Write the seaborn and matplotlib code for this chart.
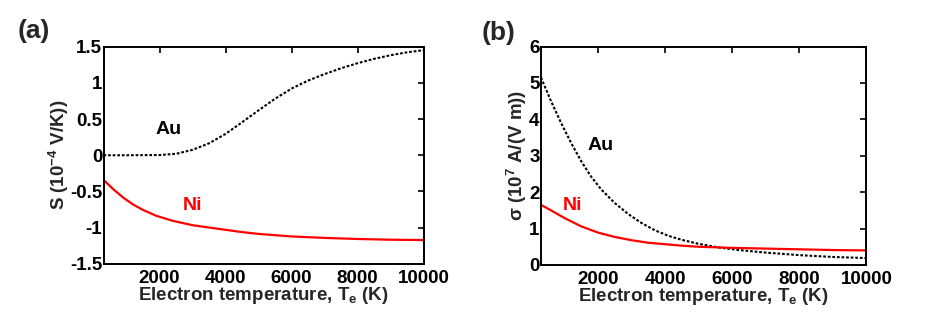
import numpy as np
import pandas as pd
import seaborn as sns
import matplotlib.pyplot as plt
from matplotlib.ticker import FormatStrFormatter

# values
# (a) Seebeck coefficient, 1e-4 V/K
te_s = [300, 1000, 2000, 2500, 3000, 3500, 4000, 4500, 5000, 5500, 6000,
        6500, 7000, 7500, 8000, 8500, 9000, 9500, 10000]
s_au = [0.0, 0.0, 0.003, 0.02, 0.075, 0.165, 0.295, 0.455, 0.62, 0.78, 0.92,
        1.03, 1.12, 1.2, 1.27, 1.33, 1.38, 1.42, 1.45]
te_s_ni = [300, 600, 900, 1200, 1500, 1900, 2400, 3000, 3700, 4500, 5000,
           6000, 7000, 8000, 9000, 10000]
s_ni = [-0.34, -0.47, -0.585, -0.68, -0.755, -0.835, -0.905, -0.965, -1.01,
        -1.06, -1.085, -1.12, -1.14, -1.155, -1.165, -1.17]

# (b) electrical conductivity, 1e7 A/(V m)
te_sig_au = [300, 600, 900, 1200, 1500, 1800, 2100, 2500, 2900, 3300, 3700,
             4100, 4500, 5000, 5600, 6200, 7000, 8000, 9000, 10000]
sig_au = [5.15, 4.5, 3.9, 3.35, 2.85, 2.42, 2.07, 1.70, 1.40, 1.15, 0.95,
          0.80, 0.69, 0.58, 0.48, 0.41, 0.34, 0.27, 0.22, 0.19]
te_sig_ni = [300, 600, 1000, 1500, 2000, 2500, 3000, 3500, 4000, 4500, 5000,
             6000, 7000, 8000, 9000, 10000]
sig_ni = [1.65, 1.50, 1.29, 1.06, 0.89, 0.77, 0.68, 0.61, 0.57, 0.53, 0.50,
          0.47, 0.45, 0.43, 0.41, 0.40]

x_ticks = [2000, 4000, 6000, 8000, 10000]

sns.set_theme(style="white")
plt.rcParams['font.family'] = ['Liberation Sans', 'DejaVu Sans']
plt.rcParams['font.weight'] = 'bold'
plt.rcParams['axes.labelweight'] = 'bold'
plt.rcParams['mathtext.fontset'] = 'custom'
plt.rcParams['mathtext.rm'] = 'Liberation Sans:bold'
plt.rcParams['mathtext.default'] = 'rm'

fs = 13.5
dots = (0, (1.3, 0.9))

fig = plt.figure(figsize=(9.26, 3.29), dpi=100)
ax1 = fig.add_axes([0.1118, 0.1976, 0.3456, 0.661])
ax2 = fig.add_axes([0.5842, 0.1946, 0.3515, 0.664])

sns.lineplot(x=te_s, y=s_au, ax=ax1, color='black', linestyle=dots, linewidth=1.5)
sns.lineplot(x=te_s_ni, y=s_ni, ax=ax1, color='red', linewidth=1.6)
sns.lineplot(x=te_sig_au, y=sig_au, ax=ax2, color='black', linestyle=dots, linewidth=1.5)
sns.lineplot(x=te_sig_ni, y=sig_ni, ax=ax2, color='red', linewidth=1.6)

ax1.set_ylim(-1.5, 1.5)
ax1.set_yticks(np.arange(-1.5, 1.51, 0.5))
ax2.set_ylim(0, 6)
ax2.set_yticks(range(0, 7))

for ax in (ax1, ax2):
    ax.set_xlim(300, 10000)
    ax.set_xticks(x_ticks)
    ax.yaxis.set_major_formatter(FormatStrFormatter('%g'))
    ax.tick_params(direction='in', length=4, width=1.2, top=True, right=True,
                   labelsize=fs, pad=1, colors='black')
    ax.tick_params(axis='x', pad=4)
    for sp in ax.spines.values():
        sp.set_visible(True)
        sp.set_color('black')
        sp.set_linewidth(1.4)
    ax.set_xlabel('Electron temperature, T$_\\mathregular{e}$ (K)', fontsize=fs,
                  labelpad=-1)

ax1.set_ylabel('S (10$^{\\mathregular{-4}}$ V/K))', fontsize=fs, labelpad=-1)
ax2.set_ylabel('σ (10$^{\\mathregular{7}}$ A/(V m))', fontsize=fs, labelpad=0)

ax1.text(2260, 0.35, 'Au', fontsize=14, fontweight='bold', color='black',
         ha='center', va='center')
ax1.text(3000, -0.70, 'Ni', fontsize=14, fontweight='bold', color='red',
         ha='center', va='center')
ax2.text(2070, 3.29, 'Au', fontsize=14, fontweight='bold', color='black',
         ha='center', va='center')
ax2.text(1240, 1.64, 'Ni', fontsize=14, fontweight='bold', color='red',
         ha='center', va='center')

fig.text(0.037, 0.905, '(a)', fontsize=19, fontweight='bold', ha='center', va='center')
fig.text(0.538, 0.900, '(b)', fontsize=19, fontweight='bold', ha='center', va='center')

fig.savefig('out.png', dpi=100, facecolor='white')
